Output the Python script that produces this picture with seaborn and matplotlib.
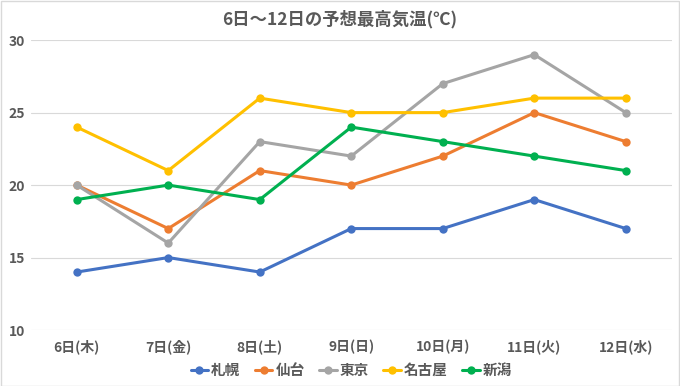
import pandas as pd
import matplotlib.pyplot as plt
import seaborn as sns

days = ['6日(木)', '7日(金)', '8日(土)', '9日(日)', '10日(月)', '11日(火)', '12日(水)']
cities = ['札幌', '仙台', '東京', '名古屋', '新潟']
sapporo = [14, 15, 14, 17, 17, 19, 17]
sendai = [20, 17, 21, 20, 22, 25, 23]
tokyo = [20, 16, 23, 22, 27, 29, 25]
nagoya = [24, 21, 26, 25, 25, 26, 26]
niigata = [19, 20, 19, 24, 23, 22, 21]
colors = ['#4472C4', '#ED7D31', '#A5A5A5', '#FFC000', '#00B050']

rows = []
for city, vals in zip(cities, [sapporo, sendai, tokyo, nagoya, niigata]):
    for d, v in zip(days, vals):
        rows.append({'day': d, 'city': city, 'temp': v})
df = pd.DataFrame(rows)

sns.set_style('white')
plt.rcParams['font.family'] = ['Noto Sans CJK JP', 'DejaVu Sans']

fig = plt.figure(figsize=(6.8, 3.86), dpi=100)
ax = fig.add_axes([0.0456, 0.145, 0.942, 0.751])
sns.lineplot(data=df, x='day', y='temp', hue='city', hue_order=cities,
             palette=colors, marker='o', markersize=6, markeredgewidth=0,
             linewidth=2.2, sort=False, ax=ax)

ax.set_ylim(10, 30)
ax.set_yticks([10, 15, 20, 25, 30])
ax.set_xlim(-0.5, 6.5)
ax.grid(axis='y', color='#D9D9D9', linewidth=0.8)
ax.set_axisbelow(True)
for s in ax.spines.values():
    s.set_visible(False)
ax.set_xlabel('')
ax.set_ylabel('')
ax.tick_params(axis='x', length=0, labelsize=10, labelcolor='#595959', pad=7)
ax.tick_params(axis='y', length=0, labelsize=10, labelcolor='#595959', pad=4)
for lab in ax.get_xticklabels() + ax.get_yticklabels():
    lab.set_fontweight('bold')

fig.suptitle('6日～12日の予想最高気温(℃)', x=0.5, y=0.975, fontsize=12.5,
             fontweight='bold', color='#595959')

leg = ax.legend(loc='upper center', bbox_to_anchor=(0.5, -0.065), ncol=5,
                frameon=False, fontsize=10.5, handlelength=1.2,
                handletextpad=0.2, columnspacing=1.0)
for t in leg.get_texts():
    t.set_color('#595959')
    t.set_fontweight('bold')

fig.patches.append(plt.Rectangle((0.001, 0.001), 0.998, 0.997, transform=fig.transFigure,
                                 fill=False, edgecolor='#D9D9D9', linewidth=1))
fig.savefig('out.png', dpi=100)
